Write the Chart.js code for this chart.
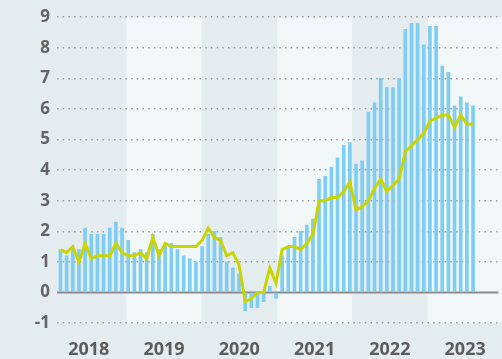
<!DOCTYPE html>
<html>
<head>
<meta charset="utf-8">
<script src="https://cdn.jsdelivr.net/npm/chart.js@4/dist/chart.umd.min.js"></script>
<style>
  html, body { margin: 0; padding: 0; background: #e4ecef; }
  #box { width: 502px; height: 359px; }
</style>
</head>
<body>
<div id="box"><canvas id="inflChart"></canvas></div>
<script>
// monthly values, Jan 2018 .. Aug 2023
var years = [2018, 2019, 2020, 2021, 2022, 2023];
var yTicks = [-1, 0, 1, 2, 3, 4, 5, 6, 7, 8, 9];

var cpi2018 = [1.4, 1.2, 1.4, 1.4, 2.1, 1.9, 1.9, 1.9, 2.1, 2.3, 2.1, 1.7];
var cpi2019 = [1.3, 1.4, 1.3, 1.9, 1.4, 1.5, 1.6, 1.4, 1.2, 1.1, 1.0, 1.5];
var cpi2020 = [1.9, 2.0, 1.8, 1.0, 0.8, 0.6, -0.6, -0.5, -0.5, -0.3, 0.2, -0.2];
var cpi2021 = [1.2, 1.5, 1.8, 2.0, 2.2, 2.4, 3.7, 3.8, 4.1, 4.4, 4.8, 4.9];
var cpi2022 = [4.2, 4.3, 5.9, 6.2, 7.0, 6.7, 6.7, 7.0, 8.6, 8.8, 8.8, 8.1];
var cpi2023 = [8.7, 8.7, 7.4, 7.2, 6.1, 6.4, 6.2, 6.1];

var core2018 = [1.4, 1.3, 1.5, 1.0, 1.6, 1.1, 1.2, 1.2, 1.2, 1.6, 1.3, 1.2];
var core2019 = [1.2, 1.3, 1.1, 1.8, 1.2, 1.6, 1.5, 1.5, 1.5, 1.5, 1.5, 1.7];
var core2020 = [2.1, 1.8, 1.7, 1.2, 1.3, 0.9, -0.3, -0.2, 0.0, 0.0, 0.8, 0.3];
var core2021 = [1.4, 1.5, 1.5, 1.4, 1.6, 1.9, 3.0, 3.0, 3.1, 3.1, 3.3, 3.6];
var core2022 = [2.7, 2.8, 3.0, 3.4, 3.7, 3.3, 3.5, 3.7, 4.6, 4.8, 5.0, 5.2];
var core2023 = [5.6, 5.7, 5.8, 5.8, 5.4, 5.8, 5.5, 5.5];

var cpi = cpi2018.concat(cpi2019, cpi2020, cpi2021, cpi2022, cpi2023);
var core = core2018.concat(core2019, core2020, core2021, core2022, core2023);

function toPoints(arr){
	var out = [];
	for(var i = 0; i < arr.length; i++){
		out.push({x: i, y: arr[i]});
	}
	return out;
}

var bgDark = '#e4ecef';
var bgLight = '#f1f6f7';

// alternating year bands behind the plot
var yearBands = {
	id: 'yearBands',
	beforeDraw: function(chart){
		var c = chart.ctx;
		var area = chart.chartArea;
		var yr = chart.scales.yr;
		c.save();
		c.fillStyle = bgDark;
		c.fillRect(0, 0, chart.width, chart.height);
		c.fillStyle = bgLight;
		for(var i = 0; i < years.length; i++){
			if(i % 2 == 0) continue;
			var x0 = Math.max(yr.getPixelForValue(years[i]), 0);
			var x1 = Math.min(yr.getPixelForValue(years[i] + 1), chart.width);
			c.fillRect(x0, area.top, x1 - x0, area.bottom - area.top);
		}
		c.restore();
	},
	beforeDatasetsDraw: function(chart){
		// solid zero line
		var c = chart.ctx;
		var area = chart.chartArea;
		var y0 = chart.scales.y.getPixelForValue(0);
		c.save();
		c.strokeStyle = '#8c8c8c';
		c.lineWidth = 2;
		c.beginPath();
		c.moveTo(area.left, y0);
		c.lineTo(area.right, y0);
		c.stroke();
		c.restore();
	}
};

var ctx = document.getElementById('inflChart').getContext('2d');
var chart = new Chart(ctx, {
	type: 'bar',
	data: {
		datasets: [{
			type: 'line',
			label: 'core',
			data: toPoints(core),
			borderColor: '#c9d400',
			borderWidth: 3,
			pointRadius: 0,
			tension: 0,
			order: 0
		}, {
			type: 'bar',
			label: 'cpi',
			data: toPoints(cpi),
			backgroundColor: '#7fcdf0',
			barThickness: 3,
			order: 1
		}]
	},
	options: {
		responsive: true,
		maintainAspectRatio: false,
		animation: false,
		layout: { padding: { top: 15, left: 0, right: 0, bottom: 0 } },
		plugins: {
			legend: { display: false },
			tooltip: { enabled: false }
		},
		scales: {
			x: {
				type: 'linear',
				display: false,
				offset: false,
				min: -0.564,
				max: 71.11
			},
			yr: {
				type: 'linear',
				position: 'bottom',
				offset: false,
				min: 2018.078,
				max: 2023.941,
				grid: { display: false, drawTicks: false },
				border: { display: false },
				afterBuildTicks: function(s){
					s.ticks = years.map(function(y){ return {value: y + 0.5}; });
				},
				afterFit: function(s){ s.height = 36; },
				ticks: {
					autoSkip: false,
					maxRotation: 0,
					padding: 16,
					color: '#5c5c5c',
					font: { family: 'Open Sans', size: 18, weight: 'bold' },
					callback: function(v){ return String(Math.floor(v)); }
				}
			},
			y: {
				min: -1,
				max: 9,
				afterBuildTicks: function(s){
					s.ticks = yTicks.map(function(v){ return {value: v}; });
				},
				afterFit: function(s){ s.width = 57; },
				grid: {
					drawTicks: false,
					lineWidth: 1.5,
					color: function(c){ return c.tick && c.tick.value === 0 ? 'rgba(0,0,0,0)' : '#999999'; }
				},
				border: { display: false, dash: [1.5, 4.2] },
				ticks: {
					padding: 7,
					color: '#646464',
					font: { family: 'Open Sans', size: 17, weight: 'bold' }
				}
			}
		}
	},
	plugins: [yearBands]
});
</script>
</body>
</html>
